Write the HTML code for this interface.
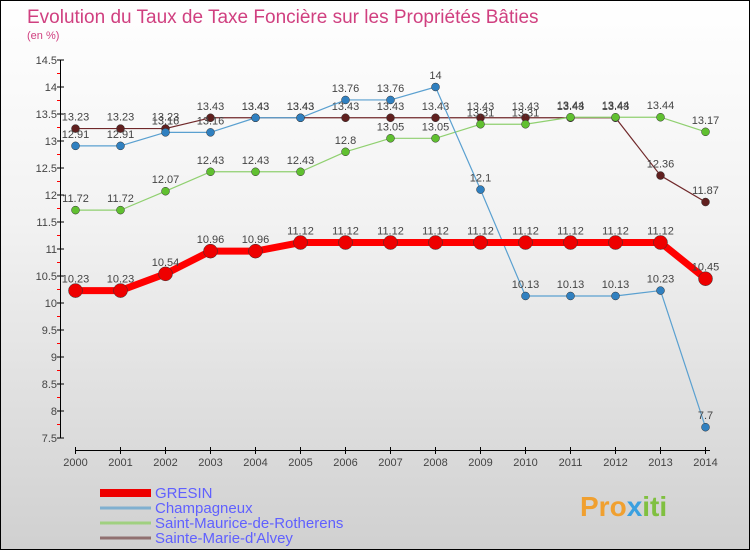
<!DOCTYPE html>
<html><head><meta charset="utf-8"><style>
body{margin:0}
#c{width:750px;height:550px;position:relative;overflow:hidden;background:linear-gradient(#ffffff,#f2f2f2 40%,#d0d0d0);font-family:"Liberation Sans",sans-serif}
</style></head><body>
<div id="c">
<svg id="s" width="750" height="550" xmlns="http://www.w3.org/2000/svg" style="position:absolute;left:0;top:0">
<rect x="0.5" y="0.5" width="749" height="549" fill="none" stroke="#000"/>
<text x="27" y="23" font-size="19" fill="#d04080">Evolution du Taux de Taxe Foncière sur les Propriétés Bâties</text>
<text x="27" y="39" font-size="11" fill="#d04080">(en %)</text>
<g id="axes"></g><g id="series"></g><g id="legend"></g>
<text x="580" y="516" font-size="28" font-weight="bold" fill="#f0a030">Pro<tspan fill="#3aa0e0">x</tspan><tspan fill="#80c040">iti</tspan></text>
</svg>
</div>
<script>
const years=[2000,2001,2002,2003,2004,2005,2006,2007,2008,2009,2010,2011,2012,2013,2014];
const yTicks=[7.5,8,8.5,9,9.5,10,10.5,11,11.5,12,12.5,13,13.5,14,14.5];
const seriesNames=["GRESIN","Champagneux","Saint-Maurice-de-Rotherens","Sainte-Marie-d'Alvey"];
const gresin=[10.23,10.23,10.54,10.96,10.96,11.12,11.12,11.12,11.12,11.12,11.12,11.12,11.12,11.12,10.45];
const champagneux=[12.91,12.91,13.16,13.16,13.43,13.43,13.76,13.76,14,12.1,10.13,10.13,10.13,10.23,7.7];
const stMaurice=[11.72,11.72,12.07,12.43,12.43,12.43,12.8,13.05,13.05,13.31,13.31,13.44,13.44,13.44,13.17];
const stMarie=[13.23,13.23,13.23,13.43,13.43,13.43,13.43,13.43,13.43,13.43,13.43,13.43,13.43,12.36,11.87];
const NS="http://www.w3.org/2000/svg";
const xS=i=>75.5+i*45;
const yS=v=>60+(14.5-v)*54;
function mk(tag,attrs,parent){const e=document.createElementNS(NS,tag);for(const k in attrs)e.setAttribute(k,attrs[k]);parent.appendChild(e);return e;}
const ax=document.getElementById('axes');
let yl=mk('line',{x1:60.5,y1:60,x2:60.5,y2:438,stroke:'#000'},ax);


yTicks.forEach((v,k)=>{
 const y=yS(v);
 let t=mk('line',{x1:57,y1:y,x2:64,y2:y,stroke:'#000'},ax);
 
 
 if(k>0){
 let m=mk('line',{x1:57,y1:y+13.5,x2:60,y2:y+13.5,stroke:'#f00'},ax);
 
 
 }
 let l=mk('text',{x:57,y:y+4,'font-size':11,'text-anchor':'end',fill:'#444'},ax);
 l.textContent=String(v);
 
 
});
let xl=mk('line',{x1:75,y1:450.5,x2:710,y2:450.5,stroke:'#000'},ax);


years.forEach((yr,i)=>{
 const x=xS(i);
 let t=mk('line',{x1:x,y1:447,x2:x,y2:454,stroke:'#000'},ax);
 
 
 let l=mk('text',{x:x,y:466,'font-size':11,'text-anchor':'middle',fill:'#444'},ax);
 l.textContent=String(yr);
 
 
});
const sg=document.getElementById('series');
const defs=[
 [stMarie,'#70282a','#60201f',1.2,4,'sainte-marie'],
 [stMaurice,'#90d070','#60c030',1.2,4,'saint-maurice'],
 [champagneux,'#5aa0d0','#3080c0',1.2,4,'champagneux'],
 [gresin,'#ff0000','#ee0000',7,7,'gresin']];
defs.forEach(([d,lc,pc,w,r,name])=>{
 const g=mk('g',{},sg);
 
 
 const p=mk('polyline',{points:d.map((v,i)=>xS(i)+','+yS(v)).join(' '),fill:'none',stroke:lc,'stroke-width':w,'stroke-linejoin':'round'},g);
 
 
 d.forEach((v,i)=>{
  const c=mk('circle',{cx:xS(i),cy:yS(v),r:r,fill:pc,stroke:'#333','stroke-width':0.5},g);
  
  
  const t=mk('text',{x:xS(i),y:yS(v)-8,'font-size':11,'text-anchor':'middle',fill:'#444'},g);
  t.textContent=String(v);
  
  
 });
});
const lg=document.getElementById('legend');
const lcols=['#ee0000','#80b0d0','#a0d080','#907070'];
const lw=[8,3,3,3];
seriesNames.forEach((n,i)=>{
 const y=493+i*15;
 const ln=mk('line',{x1:100,y1:y,x2:151,y2:y,stroke:lcols[i],'stroke-width':lw[i]},lg);
 
 
 const t=mk('text',{x:155,y:y+5,'font-size':15,fill:'#6060ff'},lg);
 t.textContent=n;
 
 
});
</script>
</body></html>
